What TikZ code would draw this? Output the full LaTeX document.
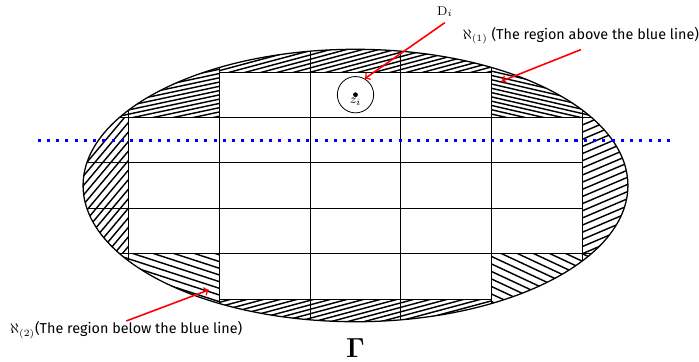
\documentclass[tikz,border=0pt]{standalone}
\usepackage{amsmath}
\usepackage[no-math]{fontspec}
\setmainfont{Fira Sans}

% hatch one zone: angle, line spacing (cm), clip path
\newcommand{\hatchzone}[3]{%
  \begin{scope}
    \clip #3;
    \foreach \k in {-80,...,80}
      \draw[hatchline,rotate=#1] (-8,\k*#2) -- (8,\k*#2);
  \end{scope}}

\begin{document}
\begin{tikzpicture}[>=to,
    hatchline/.style={line width=0.9pt,line cap=butt},
    gridline/.style={line width=0.55pt},
    pointer/.style={->,red,line width=1pt},
    regionlbl/.style={font=\small,anchor=base west}]
      \useasboundingbox (-7.83,-3.866) rectangle (7.566,4.086);
      % hatched parts of the ellipse outside the grid
      \begin{scope}
        \clip (0,0) ellipse (6 and 3);
        \hatchzone{15}{0.092}{(-3,2.5) rectangle (3,3.2)}
        \hatchzone{12}{0.092}{(-6.2,1.5) rectangle (-3,3.2)}
        \hatchzone{-13}{0.092}{(3,1.5) rectangle (6.2,3.2)}
        \hatchzone{50}{0.135}{(-6.2,-1.5) rectangle (-5,1.5)}
        \hatchzone{23}{0.145}{(5,-1.5) rectangle (6.2,1.5)}
        \hatchzone{-18}{0.14}{(-6.2,-3.2) rectangle (-3,-1.5)}
        \hatchzone{-25}{0.15}{(3,-3.2) rectangle (6.2,-1.5)}
        \hatchzone{15}{0.095}{(-3,-3.2) rectangle (3,-2.5)}
        % grid
        \draw[gridline] (-5,-3.2) -- (-5,3.2);
        \draw[gridline] (-3,-3.2) -- (-3,3.2);
        \draw[gridline] (-1,-3.2) -- (-1,3.2);
        \draw[gridline] (1,-3.2) -- (1,3.2);
        \draw[gridline] (3,-3.2) -- (3,3.2);
        \draw[gridline] (5,-3.2) -- (5,3.2);
        \draw[gridline] (-3,2.5) -- (3,2.5);
        \draw[gridline] (-5.3,1.5) -- (5.3,1.5);
        \draw[gridline] (-6.2,0.5) -- (5,0.5);
        \draw[gridline] (-6.2,-0.5) -- (5,-0.5);
        \draw[gridline] (-5.3,-1.5) -- (5.3,-1.5);
        \draw[gridline] (-3,-2.5) -- (3,-2.5);
      \end{scope}
      \draw[line width=0.8pt] (0,0) ellipse (6 and 3);
      % blue line
      \draw[blue,line width=1.9pt,dash pattern=on 1.9pt off 3.9pt] (-7,1) -- (7,1);
      % the disc D_i
      \node[circle,draw,line width=0.5pt,minimum size=0.8cm,inner sep=0pt] (Dcirc) at (0,2) {};
      \fill (Dcirc.center) circle (1.5pt);
      \node[below=0pt,font=\footnotesize,inner sep=1pt] (zi) at (0,1.96) {$z_i$};
      \node[font=\footnotesize] (Dlbl) at (1.97,3.83) {$\mathrm{D}_i$};
      \draw[pointer] (Dlbl.south) -- (Dcirc.60);
      % region labels
      \node[regionlbl] (lblA) at (2.24,3.22) {$\aleph_{(1)}$ (The region above the blue line)};
      \coordinate (tipA) at (3.22,2.3);
      \draw[pointer] (lblA.south) -- (tipA);
      \node[regionlbl] (lblB) at (-7.73,-3.27) {$\aleph_{(2)}$(The region below the blue line)};
      \coordinate (tipB) at (-3.23,-2.3);
      \draw[pointer] ([yshift=-3pt]lblB.north) -- (tipB);
      \node[font=\LARGE,inner sep=1pt] (Gamma) at (0,-3.57) {$\mathbf{\Gamma}$};
    \end{tikzpicture}
\end{document}
